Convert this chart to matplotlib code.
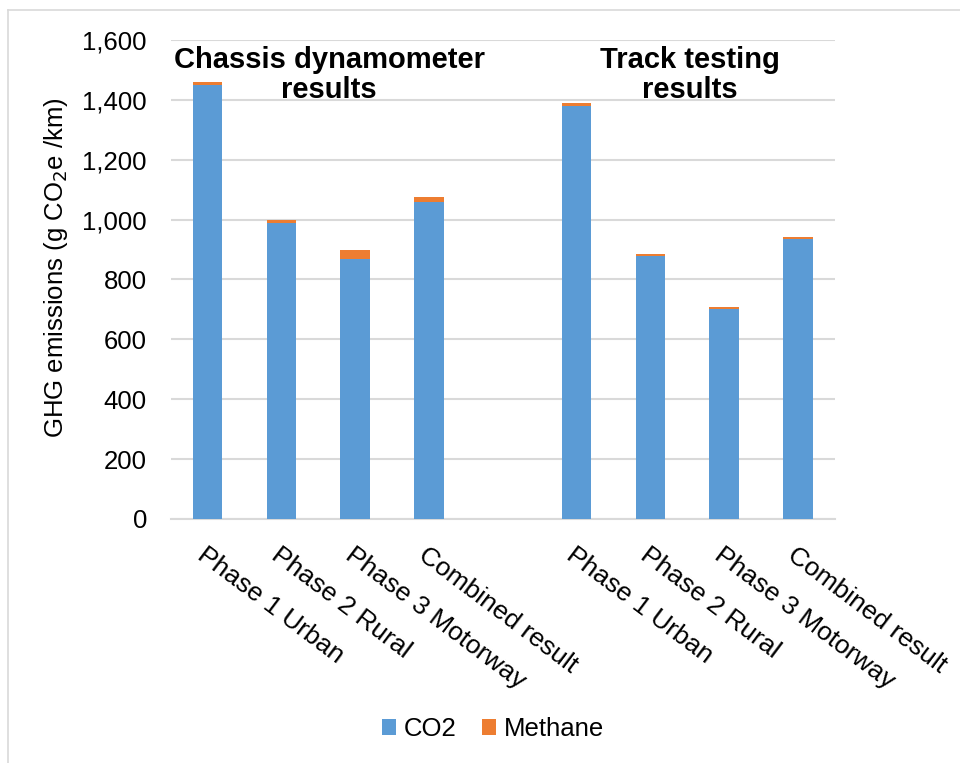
import matplotlib
matplotlib.use("Agg")
import matplotlib.pyplot as plt
import numpy as np
from matplotlib.lines import Line2D

plt.rcParams['font.family'] = ['Liberation Sans', 'DejaVu Sans']

categories = ["Phase 1 Urban", "Phase 2 Rural", "Phase 3 Motorway", "Combined result"]
group_titles = ["Chassis dynamometer\nresults", "Track testing\nresults"]
chassis_co2 = [1448, 990, 870, 1059]
chassis_methane = [13, 10, 27, 18]
track_co2 = [1381, 877, 701, 934]
track_methane = [8, 7, 6, 7]
y_ticks = [0, 200, 400, 600, 800, 1000, 1200, 1400, 1600]

blue = "#5B9BD5"
orange = "#ED7D31"
grid_c = "#D9D9D9"

fig = plt.figure(figsize=(9.6, 7.63), dpi=100)
ax = fig.add_axes([0.1777, 0.3198, 0.6919, 0.6278])

n = len(categories)
x1 = np.arange(n)
x2 = np.arange(n) + n + 1
w = 0.4

ax.bar(x1, chassis_co2, w, color=blue, label="CO2", zorder=3)
ax.bar(x1, chassis_methane, w, bottom=chassis_co2, color=orange, label="Methane", zorder=3)
ax.bar(x2, track_co2, w, color=blue, zorder=3)
ax.bar(x2, track_methane, w, bottom=track_co2, color=orange, zorder=3)

ax.set_xlim(-0.5, 2 * n + 0.5)
ax.set_ylim(0, 1600)
ax.set_yticks(y_ticks)
ax.set_yticklabels([f"{v:,}" for v in y_ticks])
ax.yaxis.grid(True, color=grid_c, linewidth=1.5, zorder=0)
ax.set_axisbelow(True)
for s in ["top", "right", "left"]:
    ax.spines[s].set_visible(False)
ax.spines["bottom"].set_color(grid_c)
ax.spines["bottom"].set_linewidth(1.5)
ax.tick_params(axis="y", length=0, pad=17, labelsize=18.5)
ax.tick_params(axis="x", length=0, pad=17, labelsize=19)

xt = list(x1) + list(x2)
ax.set_xticks(xt)
ax.set_xticklabels(categories + categories, rotation=-37, ha="left", va="top",
                   rotation_mode="anchor")

ax.set_ylabel("GHG emissions (g CO$_2$e /km)", fontsize=18.5)
ax.yaxis.set_label_coords(-0.152, 0.524)

for gx, title in zip([1.65, 6.54], group_titles):
    ax.text(gx, 1482, title, ha="center", va="center", fontsize=21,
            fontweight="bold", linespacing=1.08, zorder=5)

ax.legend(loc="center", bbox_to_anchor=(493 / 960, 1 - 729 / 763),
          bbox_transform=fig.transFigure, ncol=2, frameon=False, fontsize=18.5,
          handlelength=0.55, handleheight=0.55, handletextpad=0.3, columnspacing=1.0)

# light chart-area border (left and top edges visible in the reference)
fig.add_artist(Line2D([8 / 960, 8 / 960], [0, 1 - 10 / 763], color=grid_c, lw=1.2,
                      transform=fig.transFigure))
fig.add_artist(Line2D([8 / 960, 1], [1 - 10 / 763, 1 - 10 / 763], color=grid_c, lw=1.2,
                      transform=fig.transFigure))

fig.savefig("out.png", dpi=100)
